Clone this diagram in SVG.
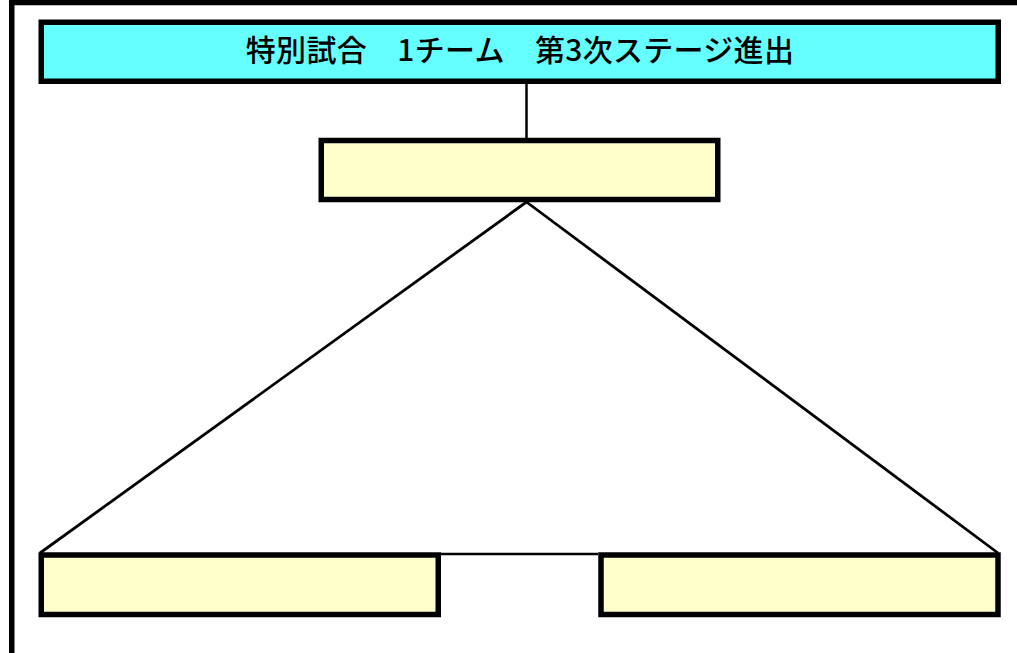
<svg xmlns="http://www.w3.org/2000/svg" width="1017" height="653" viewBox="0 0 1017 653">
<style>
.box{stroke:#000;stroke-width:5.5}
.title{fill:#66FFFF}
.empty{fill:#FFFFCC}
.conn{stroke:#000;fill:none}
.lbl{font-family:"Noto Sans CJK JP","Noto Sans",sans-serif;font-size:30px;font-weight:500;letter-spacing:0.3px;fill:#000}
</style>
<rect id="frame" x="11.75" y="2.5" width="1030" height="670" fill="none" stroke="#000" stroke-width="5.5"/>
<g id="connectors">
<line class="conn" x1="526.5" y1="84" x2="526.5" y2="138" stroke-width="2.5"/>
<line class="conn" x1="526.5" y1="202" x2="40" y2="553" stroke-width="2.8"/>
<line class="conn" x1="526.5" y1="202" x2="998" y2="553" stroke-width="2.8"/>
<line class="conn" x1="441" y1="554" x2="598" y2="554" stroke-width="2.5"/>
</g>
<g id="node-title">
<rect class="box title" x="41.25" y="22.25" width="957" height="59"/>
<text class="lbl" x="520" y="61" text-anchor="middle">特別試合　1チーム　第3次ステージ進出</text>
</g>
<g id="node-winner">
<rect class="box empty" x="321.25" y="140.5" width="396.5" height="59"/>
</g>
<g id="node-left">
<rect class="box empty" x="41.25" y="555" width="397" height="59.5"/>
</g>
<g id="node-right">
<rect class="box empty" x="601" y="555" width="397" height="59.5"/>
</g>
</svg>
